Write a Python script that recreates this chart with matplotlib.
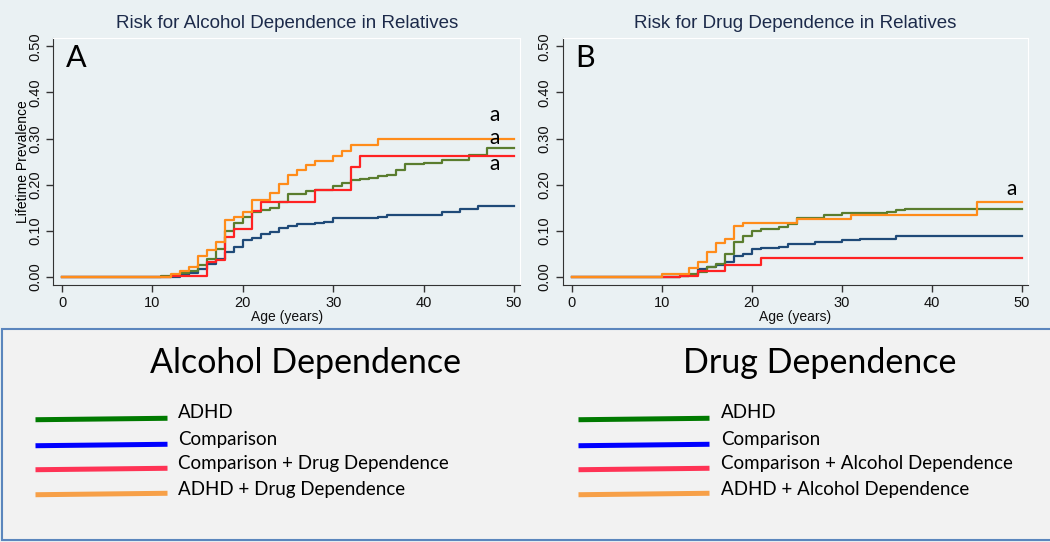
import matplotlib.pyplot as plt
from matplotlib.lines import Line2D
from matplotlib.patches import Rectangle

# Panel A: alcohol dependence in relatives (step points: age, prevalence)
alc_adhd_age = [0, 11, 12, 13, 14, 15, 16, 17, 18, 19, 20, 21, 22, 23, 24, 25, 27, 28, 30, 31, 32, 33, 34, 35, 36, 37, 38, 40, 42, 45, 47, 50]
alc_adhd = [0, .002, .004, .008, .014, .026, .04, .06, .1, .117, .13, .14, .145, .15, .162, .179, .187, .189, .198, .204, .21, .212, .215, .218, .222, .232, .244, .248, .253, .265, .28, .28]
alc_comp_age = [0, 11, 13, 14, 15, 16, 17, 18, 19, 20, 21, 22, 23, 24, 25, 26, 28, 29, 30, 35, 36, 42, 44, 46, 50]
alc_comp = [0, .001, .005, .009, .017, .028, .04, .054, .066, .08, .085, .093, .098, .106, .111, .114, .118, .12, .127, .131, .135, .14, .147, .155, .155]
alc_compdd_age = [0, 12, 16, 17, 18, 19, 21, 22, 28, 32, 33, 50]
alc_compdd = [0, .002, .033, .036, .087, .105, .143, .163, .188, .238, .263, .263]
alc_adhddd_age = [0, 12, 13, 14, 15, 16, 17, 18, 19, 20, 21, 23, 24, 25, 26, 27, 28, 30, 31, 32, 35, 50]
alc_adhddd = [0, .006, .014, .022, .045, .059, .075, .123, .131, .14, .166, .183, .202, .222, .231, .242, .252, .262, .272, .285, .298, .298]

# Panel B: drug dependence in relatives
drug_adhd_age = [0, 11, 12, 13, 14, 15, 16, 17, 18, 19, 20, 21, 23, 24, 25, 28, 30, 35, 36, 37, 50]
drug_adhd = [0, .001, .003, .006, .012, .021, .028, .05, .075, .09, .1, .104, .108, .114, .127, .134, .138, .141, .146, .148, .148]
drug_comp_age = [0, 12, 13, 14, 15, 16, 17, 18, 19, 20, 21, 23, 24, 27, 30, 32, 36, 50]
drug_comp = [0, .002, .004, .017, .022, .026, .033, .045, .051, .06, .062, .065, .072, .077, .08, .082, .09, .09]
drug_compad_age = [0, 12, 14, 17, 21, 50]
drug_compad = [0, .002, .013, .026, .041, .041]
drug_adhdad_age = [0, 10, 13, 14, 15, 16, 17, 18, 19, 25, 31, 45, 50]
drug_adhdad = [0, .006, .02, .033, .054, .074, .082, .11, .118, .126, .134, .162, .162]

group_names = ["ADHD", "Comparison", "Comparison + Drug Dependence", "ADHD + Drug Dependence"]
group_names_b = ["ADHD", "Comparison", "Comparison + Alcohol Dependence", "ADHD + Alcohol Dependence"]
yticks = [0, 0.1, 0.2, 0.3, 0.4, 0.5]
xticks = [0, 10, 20, 30, 40, 50]

line_colors = ["#5a7d2e", "#1f4a78", "#ff2222", "#ff8c1a"]
legend_colors = ["#007a00", "#0000ff", "#ff3355", "#f7a048"]
bg = "#eaf1f3"
title_col = "#1c2a4a"

fig = plt.figure(figsize=(10.5, 5.42), dpi=100, facecolor=bg)

def panel(rect, series, title, letter, marks):
    ax = fig.add_axes(rect)
    ax.set_facecolor(bg)
    # draw order: comparison, adhd, comp+, adhd+
    for i in [1, 0, 2, 3]:
        ages, vals = series[i]
        ax.step(ages, vals, where="post", color=line_colors[i], lw=1.6)
    ax.set_xlim(-1.0, 50.7)
    ax.set_ylim(-0.0174, 0.518)
    ax.set_xticks(xticks)
    ax.set_yticks(yticks)
    ax.set_yticklabels([f"{v:.2f}" for v in yticks], rotation=90, va="center")
    ax.tick_params(direction="out", length=5, width=1, color="#333333",
                   labelsize=10.5, labelcolor="#111111", pad=3)
    for s in ["left", "bottom"]:
        ax.spines[s].set_color("#333333")
    for s in ["top", "right"]:
        ax.spines[s].set_color("white")
    ax.set_title(title, fontsize=13.5, color=title_col, pad=7, family="Liberation Sans")
    ax.set_xlabel("Age (years)", fontsize=10, labelpad=0, color="#111111")
    ax.text(0.4, 0.474, letter, fontsize=22, family="Lato", va="center", ha="left")
    for (mx, my) in marks:
        ax.text(mx, my, "a", fontsize=15, family="Lato", va="center", ha="center")
    for lab in ax.get_xticklabels() + ax.get_yticklabels():
        lab.set_family("Liberation Sans")
    ax.xaxis.label.set_family("Liberation Sans")
    return ax

ax_a = panel([0.0505, 0.474, 0.445, 0.456],
             [(alc_adhd_age, alc_adhd), (alc_comp_age, alc_comp),
              (alc_compdd_age, alc_compdd), (alc_adhddd_age, alc_adhddd)],
             "Risk for Alcohol Dependence in Relatives", "A",
             [(47.9, 0.351), (47.9, 0.301), (47.9, 0.245)])
ax_a.set_ylabel("Lifetime Prevalence", fontsize=10, family="Liberation Sans")
ax_a.yaxis.set_label_coords(-0.05, 0.5)

ax_b = panel([0.536, 0.474, 0.443, 0.456],
             [(drug_adhd_age, drug_adhd), (drug_comp_age, drug_comp),
              (drug_compad_age, drug_compad), (drug_adhdad_age, drug_adhdad)],
             "Risk for Drug Dependence in Relatives", "B",
             [(48.9, 0.19)])

# legend box
W, H = 1050, 542
fig.patches.append(Rectangle((2 / W, 1 - 540 / H), 1.0, (540 - 329) / H, transform=fig.transFigure,
                             facecolor="#f2f2f2", edgecolor="#5b86bd", lw=1.5, zorder=0))

def legend_block(title, title_x, x0, x1, tx, names):
    fig.text(title_x / W, 1 - 363 / H, title, fontsize=24.5, family="Lato", ha="center", va="center")
    ys = [419, 445, 469, 494]
    tys = [413, 439, 464, 489]
    for name, c, y, ty in zip(names, legend_colors, ys, tys):
        fig.add_artist(Line2D([x0 / W, x1 / W], [1 - (y + 0.7) / H, 1 - (y - 0.7) / H],
                              transform=fig.transFigure, color=c, lw=3.6))
        fig.text(tx / W, 1 - ty / H, name, fontsize=13.5, family="Lato", ha="left", va="center")

legend_block("Alcohol Dependence", 306, 38, 165, 178, group_names)
legend_block("Drug Dependence", 820, 581, 707, 721, group_names_b)

fig.savefig("out.png", dpi=100, facecolor=bg)
